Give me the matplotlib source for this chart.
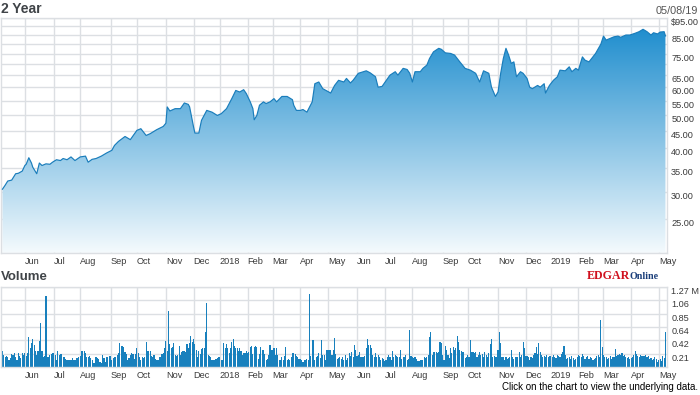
import numpy as np
import pandas as pd
import matplotlib
matplotlib.use('Agg')
import matplotlib.pyplot as plt
from matplotlib.colors import LinearSegmentedColormap
from matplotlib.ticker import NullLocator

plt.rcParams.update({'font.family': 'Liberation Sans'})

# NYSE holidays inside the window, so the x axis runs on trading sessions
holidays = ['2017-05-29', '2017-07-04', '2017-09-04', '2017-11-23', '2017-12-25',
            '2018-01-01', '2018-01-15', '2018-02-19', '2018-03-30', '2018-05-28',
            '2018-07-04', '2018-09-03', '2018-11-22', '2018-12-05', '2018-12-25',
            '2019-01-01', '2019-01-21', '2019-02-18', '2019-04-19']
dates = pd.bdate_range('2017-05-08', '2019-05-08', freq='C', holidays=holidays)

# closing price (session number since 05/08/17, $)
session = [0, 2, 4, 7, 10, 12, 15, 17, 18, 20, 22, 23, 26, 28, 30, 33, 36, 38, 41, 44,
           46, 49, 52, 55, 59, 63, 65, 68, 71, 75, 79, 83, 85, 88, 93, 97, 102, 105, 109, 112,
           117, 122, 124, 125, 127, 131, 135, 138, 141, 142, 145, 146, 149, 151, 155, 159, 163, 166, 170, 174,
           177, 180, 183, 185, 188, 190, 191, 193, 195, 198, 200, 203, 206, 208, 212, 216, 220, 221, 223, 226,
           228, 231, 235, 237, 240, 243, 249, 252, 255, 259, 261, 264, 266, 270, 274, 276, 279, 283, 285, 288,
           292, 294, 298, 300, 304, 307, 309, 311, 313, 317, 319, 322, 324, 327, 331, 333, 336, 340, 343, 347,
           351, 355, 359, 362, 365, 369, 371, 374, 376, 378, 380, 382, 384, 386, 388, 390, 393, 395, 398, 400,
           402, 406, 408, 411, 412, 415, 418, 421, 423, 427, 430, 432, 435, 437, 440, 442, 445, 447, 450, 454,
           456, 458, 461, 464, 467, 469, 473, 476, 480, 483, 486, 489, 492, 494, 497, 499, 502, 503]
close = [30.5, 31.3, 32.2, 32.4, 33.8, 33.9, 34.4, 35.7, 36.0, 37.6, 36.3, 35.3, 33.8, 36.3, 35.7, 36.1, 36.0, 36.5, 37.1, 36.9,
         37.4, 37.1, 37.8, 36.9, 37.8, 38.0, 36.5, 37.2, 37.4, 38.0, 38.8, 39.5, 40.8, 41.9, 43.3, 42.4, 45.1, 45.6, 43.6, 44.1,
         45.3, 46.3, 47.3, 52.7, 51.3, 52.1, 52.1, 54.1, 53.6, 52.7, 46.1, 44.3, 44.3, 48.2, 51.5, 50.9, 49.8, 50.4, 52.1, 55.7,
         58.8, 58.2, 59.1, 57.6, 54.5, 52.1, 48.4, 49.8, 53.3, 54.5, 53.9, 54.5, 55.7, 54.5, 56.5, 56.5, 55.3, 53.3, 51.5, 51.5,
         51.8, 50.9, 54.5, 61.5, 62.2, 59.5, 57.8, 60.8, 62.9, 62.2, 63.7, 61.8, 62.9, 65.9, 66.6, 67.0, 66.1, 64.4, 60.1, 60.4,
         63.5, 65.1, 66.6, 65.1, 68.1, 67.6, 65.9, 62.2, 66.6, 66.6, 68.1, 69.6, 72.7, 76.0, 77.8, 77.3, 75.5, 75.2, 74.4, 71.1,
         68.1, 67.3, 65.9, 62.2, 67.0, 65.9, 60.1, 56.5, 58.2, 65.9, 72.7, 77.8, 74.4, 70.4, 71.1, 64.4, 66.6, 65.9, 63.7, 60.1,
         59.5, 60.8, 60.1, 61.5, 57.8, 60.8, 62.9, 64.4, 67.3, 67.0, 68.8, 66.6, 68.1, 67.3, 73.5, 71.9, 71.1, 72.7, 75.2, 80.0,
         84.4, 82.2, 83.1, 84.0, 84.4, 83.7, 85.0, 85.0, 86.0, 86.9, 88.3, 86.9, 85.0, 86.3, 85.6, 86.7, 86.9, 84.5]

# daily volume, thousands of shares
vol_2017 = [250, 200, 160, 180, 170, 120, 150, 210, 190, 230,
            160, 120, 230, 180, 140, 220, 200, 230, 180, 220,
            470, 300, 380, 450, 350, 250, 190, 260, 410, 700,
            260, 160, 180, 1120, 170, 160, 194, 210, 220, 220,
            200, 115, 262, 200, 210, 210, 170, 157, 130, 115,
            115, 120, 115, 140, 115, 115, 140, 140, 157, 180,
            250, 262, 262, 230, 170, 170, 180, 140, 115, 70,
            65, 157, 140, 130, 90, 70, 194, 150, 90, 157,
            170, 180, 180, 115, 150, 157, 170, 200, 231, 390,
            340, 330, 320, 240, 210, 115, 150, 194, 231, 210,
            130, 210, 300, 220, 157, 115, 157, 140, 157, 400,
            262, 262, 262, 180, 170, 194, 130, 115, 115, 157,
            157, 210, 230, 310, 420, 250, 890, 360, 300, 320,
            390, 200, 180, 190, 340, 194, 240, 262, 262, 240,
            360, 300, 380, 490, 400, 450, 360, 280, 157, 262,
            210, 290, 300, 300, 550, 1020, 200, 180, 160, 115,
            115, 115, 130, 150, 160]
vol_2018 = [170, 115, 115, 390, 300,
            360, 300, 231, 300, 400, 440, 330, 300, 300, 262,
            300, 250, 200, 231, 231, 250, 231, 240,
            325, 336, 210, 325, 336, 325, 126, 210, 315, 273,
            273, 210, 115, 131, 194, 352, 273, 273, 300, 194,
            300, 194, 115, 115, 168, 115, 178, 325, 115, 126,
            115, 168, 231, 220, 210, 178, 157, 126, 136, 115,
            89, 115, 115, 126, 115, 1155, 178, 430, 430, 115,
            168, 178, 220, 142, 430, 194, 194, 115, 273, 273,
            273, 273, 194, 273, 457, 210, 126, 142, 157, 126,
            157, 115, 194, 115, 142, 220, 178, 247, 157, 352,
            273, 178, 194, 247, 168, 157, 157, 178, 300, 441,
            352, 352, 300, 194, 157, 231, 157, 194, 168, 115,
            142, 126, 105, 115, 157, 194, 157, 115, 262, 157,
            194, 178, 157, 157, 273, 126, 168, 157, 194, 115,
            126, 588, 178, 157, 142, 157, 126, 105, 105, 115,
            115, 115, 157, 142, 168, 194, 483, 562, 194, 247,
            247, 247, 220, 247, 404, 378, 194, 115, 336, 273,
            194, 142, 300, 231, 325, 273, 300, 493, 404, 273,
            262, 247, 247, 142, 157, 194, 157, 430, 247, 247,
            220, 247, 157, 194, 247, 194, 210, 168, 247, 194,
            157, 231, 367, 441, 157, 178, 157, 157, 273, 562,
            378, 157, 157, 115, 157, 126, 142, 157, 273, 157,
            126, 157, 157, 157, 247, 157, 194, 404, 300, 178,
            178, 157, 115, 157, 142, 194, 231, 325, 210, 388,
            247, 194, 157, 178, 157,
            194, 157, 178]
vol_2019 = [178, 157, 194, 168, 142, 194, 178, 157, 210, 247,
            341, 194, 126, 142, 157, 126, 178, 142, 115, 126,
            157, 194, 178, 157, 210, 178, 126, 157, 178, 126,
            157, 142, 115, 126, 142, 178, 194, 168, 746, 325,
            194, 168, 157, 126, 142, 178, 126, 157, 168, 289,
            178, 194, 210, 194, 220, 178, 194, 157, 142, 168,
            126, 142, 157, 194, 262, 210, 178, 157, 194, 178,
            178, 178, 194, 157, 178, 126, 142, 115, 126, 157,
            126, 89, 115, 126, 105, 178, 150, 560]

price_levels = [95, 90, 85, 80, 75, 70, 65, 60, 55, 50, 45, 40, 35, 30, 25, 20]
price_labels = ['$95.00', '', '85.00', '', '75.00', '', '65.00', '60.00', '55.00', '50.00',
                '45.00', '40.00', '35.00', '30.00', '25.00', '']
vol_levels = [0, 0.2117, 0.4233, 0.635, 0.8467, 1.0583, 1.27]
vol_labels = ['', '0.21', '0.42', '0.64', '0.85', '1.06', '1.27 M']

volume = np.array(vol_2017 + vol_2018 + vol_2019) / 1000.0
n = len(dates)
idx = pd.Series(np.arange(n), index=dates)
firsts = idx.groupby([dates.year, dates.month]).first()
month_pos, month_lab = [], []
for (yr, mo), pos in list(firsts.items())[1:]:
    month_pos.append(pos)
    month_lab.append(str(yr) if mo == 1 else pd.Timestamp(yr, mo, 1).strftime('%b'))

grid_c = '#dcdfe3'
lab_c = '#3a3a3a'

fig = plt.figure(figsize=(7, 3.95), dpi=100)
ax = fig.add_axes([0.002, 0.3603, 0.9509, 0.5934])
av = fig.add_axes([0.002, 0.0701, 0.9509, 0.2041])

# price panel: gradient image clipped to the area under the close line
ax.set_yscale('log')
cmap = LinearSegmentedColormap.from_list('fade', ['#f4fafd', '#1689cc'])
grad = np.linspace(0, 1, 256).reshape(-1, 1)
im = ax.imshow(grad, cmap=cmap, aspect='auto', extent=[0, 1, 0, 1],
               transform=ax.transAxes, origin='lower', zorder=2)
poly = ax.fill_between(session, close, 20, color='none', lw=0)
im.set_clip_path(poly.get_paths()[0], transform=ax.transData)
ax.plot(session, close, color='#1a7dbb', lw=0.85, zorder=3)
ax.set_ylim(20, 95)
ax.set_yticks(price_levels)
ax.set_yticklabels(price_labels)
ax.yaxis.set_minor_locator(NullLocator())

av.bar(np.arange(n), volume, width=0.85, color='#1880bd', lw=0, zorder=2)
av.set_ylim(0, 1.27)
av.set_yticks(vol_levels)
av.set_yticklabels(vol_labels)

for a in (ax, av):
    a.set_xlim(-0.8, n + 0.2)
    a.set_xticks(month_pos)
    a.set_xticklabels(month_lab)
    a.set_axisbelow(True)
    a.grid(True, color=grid_c, lw=1)
    a.yaxis.tick_right()
    a.tick_params(length=0, labelsize=6.6, labelcolor=lab_c)
    a.tick_params(axis='x', pad=3)
    a.tick_params(axis='y', pad=3)
    for s in a.spines.values():
        s.set_color(grid_c)
        s.set_linewidth(1)
    for t in a.get_yticklabels():
        t.set_va('top')
    for t in a.get_xticklabels():
        t.set_ha('left')

fig.text(0.0014, 1 - 9 / 395, '2 Year', fontsize=10, fontweight='bold', color='#404448', va='center')
fig.text(0.0014, 1 - 277 / 395, 'Volume', fontsize=9.5, fontweight='bold', color='#404448', va='center')
fig.text(698 / 700, 1 - 11 / 395, '05/08/19', fontsize=7.8, color='#555555', ha='right', va='center')
fig.text(587 / 700, 1 - 276 / 395, 'EDGAR', fontsize=8.6, fontweight='bold', color='#d0101e',
         family='Liberation Serif', va='center')
fig.text(630 / 700, 1 - 276.5 / 395, 'Online', fontsize=7.2, fontweight='bold', color='#1b3f7a',
         family='Liberation Serif', va='center')
fig.text(698 / 700, 1 - 387 / 395, 'Click on the chart to view the underlying data.',
         fontsize=7, color='black', ha='right', va='center')

fig.savefig('out.png', dpi=100)
